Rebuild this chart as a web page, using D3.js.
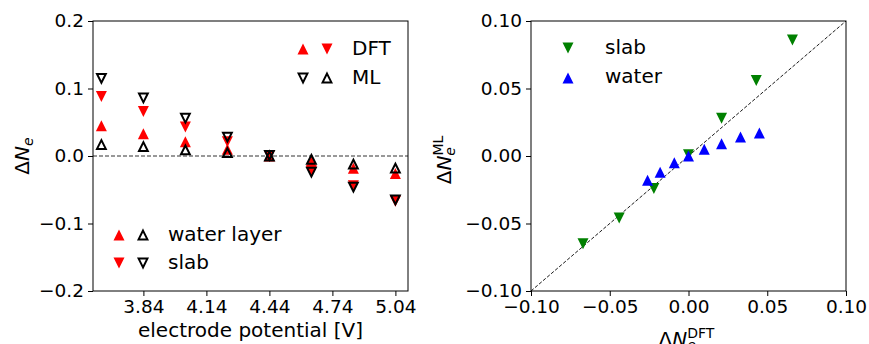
<!DOCTYPE html>
<html lang="en">
<head>
<meta charset="utf-8">
<title>Delta N_e: DFT vs ML</title>
<script src="https://cdn.jsdelivr.net/npm/d3@7"></script>
<style>
	body { margin: 0; background: #fff; }
	text { font-family: "DejaVu Sans", sans-serif; fill: #000; }
</style>
</head>
<body>
<script>

// data
var potentials = [3.64, 3.84, 4.04, 4.24, 4.44, 4.64, 4.84, 5.04];
var dftSlab  = [0.088, 0.066, 0.043, 0.021, 0.000, -0.022, -0.044, -0.067];
var mlSlab   = [0.115, 0.086, 0.056, 0.028, 0.001, -0.024, -0.046, -0.065];
var dftWater = [0.045, 0.033, 0.021, 0.010, 0.000, -0.009, -0.018, -0.026];
var mlWater  = [0.017, 0.014, 0.009, 0.005, 0.000, -0.005, -0.012, -0.018];

var xTicksLeft  = [3.84, 4.14, 4.44, 4.74, 5.04];
var yTicksLeft  = [-0.2, -0.1, 0.0, 0.1, 0.2];
var ticksRight  = [-0.10, -0.05, 0.00, 0.05, 0.10];

var w = 869, h = 344;

var svg = d3.select("body").append("svg")
	.attr("width", w)
	.attr("height", h);

// axes boxes
var L = {x0: 93, x1: 408, y0: 21, y1: 291};
var R = {x0: 531, x1: 846, y0: 21, y1: 291};

var xL = d3.scaleLinear().domain([3.6, 5.1]).range([L.x0, L.x1]);
var yL = d3.scaleLinear().domain([-0.2, 0.2]).range([L.y1, L.y0]);
var xR = d3.scaleLinear().domain([-0.1, 0.1]).range([R.x0, R.x1]);
var yR = d3.scaleLinear().domain([-0.1, 0.1]).range([R.y1, R.y0]);

// matplotlib-like triangles ('^' and 'v'), size = half width
var triUp = {draw: function(ctx, r) {
	ctx.moveTo(0, -r); ctx.lineTo(r, r); ctx.lineTo(-r, r); ctx.closePath();
}};
var triDown = {draw: function(ctx, r) {
	ctx.moveTo(0, r); ctx.lineTo(-r, -r); ctx.lineTo(r, -r); ctx.closePath();
}};

var filled = d3.symbol().size(5.5);
var hollow = d3.symbol().size(4.4);

function addClip(id, b) {
	svg.append("clipPath").attr("id", id)
		.append("rect")
		.attr("x", b.x0).attr("y", b.y0)
		.attr("width", b.x1 - b.x0).attr("height", b.y1 - b.y0);
}
addClip("clipL", L);
addClip("clipR", R);

function markers(g, xs, ys, xs_, ys_, type, open, color) {
	var pts = xs.map(function(d, i) { return [d, ys[i]]; });
	var sym = open ? hollow : filled;
	g.selectAll(null)
		.data(pts)
		.enter()
		.append("path")
		.attr("transform", function(d) { return "translate(" + xs_(d[0]) + "," + ys_(d[1]) + ")"; })
		.attr("d", sym.type(type)())
		.style("fill", open ? "none" : color)
		.style("stroke", open ? color : "none")
		.style("stroke-width", open ? 2 : 0)
		.style("stroke-linejoin", "miter");
}

function styleAxis(g) {
	g.attr("font-size", 18.5).attr("font-family", "DejaVu Sans");
	g.select(".domain").remove();
	g.selectAll(".tick line").attr("stroke", "#000").attr("stroke-width", 1);
}

// ---------- left panel ----------
var gL = svg.append("g").attr("clip-path", "url(#clipL)");

gL.append("line")
	.attr("x1", xL(3.6)).attr("x2", xL(5.1))
	.attr("y1", yL(0)).attr("y2", yL(0))
	.style("stroke", "#333")
	.style("stroke-width", 1)
	.style("stroke-dasharray", "4,2");

markers(gL, potentials, dftWater, xL, yL, triUp, false, "#ff0000");
markers(gL, potentials, dftSlab, xL, yL, triDown, false, "#ff0000");
markers(gL, potentials, mlWater, xL, yL, triUp, true, "#000");
markers(gL, potentials, mlSlab, xL, yL, triDown, true, "#000");

svg.append("rect")
	.attr("x", L.x0).attr("y", L.y0)
	.attr("width", L.x1 - L.x0).attr("height", L.y1 - L.y0)
	.style("fill", "none").style("stroke", "#000").style("stroke-width", 1);

svg.append("g")
	.attr("transform", "translate(0," + L.y1 + ")")
	.call(d3.axisBottom(xL).tickValues(xTicksLeft).tickFormat(d3.format(".2f")).tickSize(5).tickPadding(4))
	.call(styleAxis);

svg.append("g")
	.attr("transform", "translate(" + L.x0 + ",0)")
	.call(d3.axisLeft(yL).tickValues(yTicksLeft).tickFormat(d3.format(".1f")).tickSize(5).tickPadding(4))
	.call(styleAxis);

svg.append("text")
	.attr("x", (L.x0 + L.x1) / 2).attr("y", 337)
	.attr("text-anchor", "middle")
	.attr("font-size", 20)
	.text("electrode potential [V]");

var ylab = svg.append("text")
	.attr("transform", "translate(28.5," + (L.y0 + L.y1) / 2 + ") rotate(-90)")
	.attr("text-anchor", "middle")
	.attr("font-size", 20);
ylab.append("tspan").text("Δ");
ylab.append("tspan").attr("font-style", "italic").text("N");
ylab.append("tspan").attr("font-style", "italic").attr("font-size", 14).attr("dy", 4).text("e");

// left legends
function legendRow(x1, x2, tx, y, t1, o1, t2, o2, label) {
	svg.append("path").attr("transform", "translate(" + x1 + "," + y + ")")
		.attr("d", (o1 ? hollow : filled).type(t1)())
		.style("fill", o1 ? "none" : "#ff0000").style("stroke", o1 ? "#000" : "none").style("stroke-width", 2);
	svg.append("path").attr("transform", "translate(" + x2 + "," + y + ")")
		.attr("d", (o2 ? hollow : filled).type(t2)())
		.style("fill", o2 ? "none" : "#ff0000").style("stroke", o2 ? "#000" : "none").style("stroke-width", 2);
	svg.append("text").attr("x", tx).attr("y", y + 6).attr("font-size", 20).text(label);
}
legendRow(303, 327, 352, 49, triUp, false, triDown, false, "DFT");
legendRow(303, 327, 352, 78, triDown, true, triUp, true, "ML");
legendRow(119, 143, 168, 235, triUp, false, triUp, true, "water layer");
legendRow(119, 143, 168, 263, triDown, false, triDown, true, "slab");

// ---------- right panel ----------
var gR = svg.append("g").attr("clip-path", "url(#clipR)");

gR.append("line")
	.attr("x1", xR(-0.1)).attr("y1", yR(-0.1))
	.attr("x2", xR(0.1)).attr("y2", yR(0.1))
	.style("stroke", "#000")
	.style("stroke-width", 0.9)
	.style("stroke-dasharray", "3.5,1.8");

markers(gR, dftSlab, mlSlab, xR, yR, triDown, false, "#008000");
markers(gR, dftWater, mlWater, xR, yR, triUp, false, "#0000ff");

svg.append("rect")
	.attr("x", R.x0).attr("y", R.y0)
	.attr("width", R.x1 - R.x0).attr("height", R.y1 - R.y0)
	.style("fill", "none").style("stroke", "#000").style("stroke-width", 1);

svg.append("g")
	.attr("transform", "translate(0," + R.y1 + ")")
	.call(d3.axisBottom(xR).tickValues(ticksRight).tickFormat(d3.format(".2f")).tickSize(5).tickPadding(4))
	.call(styleAxis);

svg.append("g")
	.attr("transform", "translate(" + R.x0 + ",0)")
	.call(d3.axisLeft(yR).tickValues(ticksRight).tickFormat(d3.format(".2f")).tickSize(5).tickPadding(4))
	.call(styleAxis);

var xlabR = svg.append("text")
	.attr("x", (R.x0 + R.x1) / 2 - 2).attr("y", 346)
	.attr("text-anchor", "middle")
	.attr("font-size", 20);
xlabR.append("tspan").text("Δ");
xlabR.append("tspan").attr("font-style", "italic").text("N");
xlabR.append("tspan").attr("font-style", "italic").attr("font-size", 14).attr("dy", 4).text("e");
xlabR.append("tspan").attr("font-size", 14).attr("dx", -8.6).attr("dy", -12).text("DFT");

var ylabR = svg.append("text")
	.attr("transform", "translate(451," + ((R.y0 + R.y1) / 2 + 4) + ") rotate(-90)")
	.attr("text-anchor", "middle")
	.attr("font-size", 20);
ylabR.append("tspan").text("Δ");
ylabR.append("tspan").attr("font-style", "italic").text("N");
ylabR.append("tspan").attr("font-style", "italic").attr("font-size", 14).attr("dy", 4).text("e");
ylabR.append("tspan").attr("font-size", 14).attr("dx", -8.6).attr("dy", -12).text("ML");

// right legend
svg.append("path").attr("transform", "translate(568,48)")
	.attr("d", filled.type(triDown)()).style("fill", "#008000");
svg.append("text").attr("x", 605).attr("y", 54).attr("font-size", 20).text("slab");
svg.append("path").attr("transform", "translate(568,78)")
	.attr("d", filled.type(triUp)()).style("fill", "#0000ff");
svg.append("text").attr("x", 605).attr("y", 83).attr("font-size", 20).text("water");

</script>
</body>
</html>
